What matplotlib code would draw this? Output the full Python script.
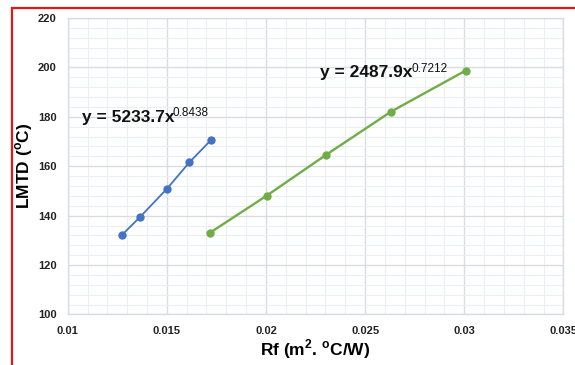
import matplotlib
matplotlib.use("Agg")
import matplotlib.pyplot as plt
from matplotlib.patches import Rectangle
from matplotlib.ticker import MultipleLocator, FixedLocator

plt.rcParams['font.family'] = ['Liberation Sans', 'DejaVu Sans']
plt.rcParams['mathtext.fontset'] = 'custom'
plt.rcParams['mathtext.rm'] = 'Liberation Sans'
plt.rcParams['mathtext.bf'] = 'Liberation Sans:bold'

# Data
blue_rf = [0.01274, 0.01363, 0.0150, 0.01614, 0.01723]
blue_lmtd = [132.2, 139.3, 150.8, 161.6, 170.6]
green_rf = [0.01718, 0.02004, 0.02305, 0.02631, 0.03007]
green_lmtd = [133.1, 148.1, 164.7, 182.1, 198.7]
x_ticks = [0.01, 0.015, 0.02, 0.025, 0.03, 0.035]
x_tick_labels = ["0.01", "0.015", "0.02", "0.025", "0.03", "0.035"]
y_ticks = [100, 120, 140, 160, 180, 200, 220]
eq_blue = ("y = 5233.7x", "0.8438")
eq_green = ("y = 2487.9x", "0.7212")

fig = plt.figure(figsize=(5.75, 3.65), dpi=100)
ax = fig.add_axes([0.1177, 0.1384, 0.862, 0.8123])

# red frame
fig.patches.append(Rectangle((12/575, -0.1), 1.2, (365-8)/365 + 0.1,
                             transform=fig.transFigure, fill=False,
                             edgecolor='#e8141b', linewidth=1.6))

ax.plot(blue_rf, blue_lmtd, color='#4472c4', lw=1.3, marker='o', ms=5, zorder=3)
ax.plot(green_rf, green_lmtd, color='#70ad47', lw=1.7, marker='o', ms=5, zorder=3)

ax.set_xlim(0.01, 0.035)
ax.set_ylim(100, 220)
ax.xaxis.set_major_locator(FixedLocator(x_ticks))
ax.set_xticklabels(x_tick_labels)
ax.yaxis.set_major_locator(FixedLocator(y_ticks))
ax.xaxis.set_minor_locator(MultipleLocator(0.001))
ax.yaxis.set_minor_locator(MultipleLocator(4))
ax.grid(which='major', color='#d9dce3', lw=1.0)
ax.grid(which='minor', color='#eceef2', lw=0.8)
ax.set_axisbelow(True)
for s in ax.spines.values():
    s.set_color('#d9dce3')
    s.set_linewidth(1.0)
ax.tick_params(which='both', length=0)
ax.tick_params(axis='x', pad=8)
ax.tick_params(axis='y', pad=8)
for lab in ax.get_xticklabels() + ax.get_yticklabels():
    lab.set_fontweight('bold')
    lab.set_fontsize(8)
    lab.set_color('#222222')

ax.set_xlabel("Rf (m$^{\\mathbf{2}}$. $^{\\mathbf{o}}$C/W)", fontsize=12.5,
              fontweight='bold', labelpad=1)
ax.set_ylabel("LMTD ($^{\\mathbf{o}}$C)", fontsize=12.5, fontweight='bold', labelpad=2)


def equation(x, y, parts):
    main = ax.text(x, y, parts[0], fontsize=12.5, fontweight='bold', color='#111111')
    ax.annotate(parts[1], xy=(1, 1), xycoords=main, xytext=(-0.8, 2),
                textcoords='offset points', ha='left', va='top',
                fontsize=8.5, color='#111111')


equation(0.0107, 178, eq_blue)
equation(0.02275, 196, eq_green)

fig.savefig("out.png", dpi=100)
